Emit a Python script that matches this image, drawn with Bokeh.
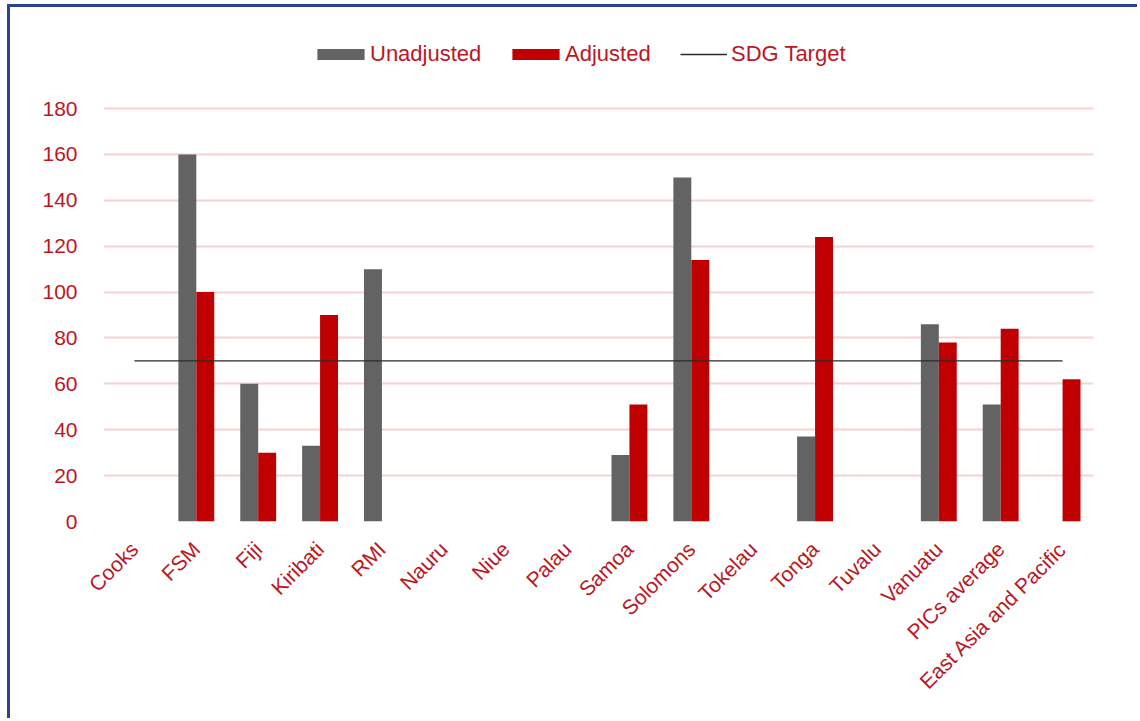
import math
from bokeh.plotting import figure
from bokeh.models import FactorRange, Range1d, FixedTicker, Legend, LegendItem, ColumnDataSource
from bokeh.transform import dodge
from bokeh.embed import file_html
from bokeh.resources import INLINE

categories = ["Cooks", "FSM", "Fiji", "Kiribati", "RMI", "Nauru", "Niue", "Palau", "Samoa",
              "Solomons", "Tokelau", "Tonga", "Tuvalu", "Vanuatu", "PICs average",
              "East Asia and Pacific"]
unadjusted = [0, 160, 60, 33, 110, 0, 0, 0, 29, 150, 0, 37, 0, 86, 51, 0]
adjusted = [0, 100, 30, 90, 0, 0, 0, 0, 51, 114, 0, 124, 0, 78, 84, 62]
sdg_target = 70
y_ticks = [0, 20, 40, 60, 80, 100, 120, 140, 160, 180]

RED_TXT = "#BD1622"
FONT = "Liberation Sans"

src = ColumnDataSource(dict(cat=categories, un=unadjusted, adj=adjusted))

p = figure(x_range=FactorRange(*categories, range_padding=0),
           y_range=Range1d(0, 214.9),
           width=1130, height=714, output_backend="svg", toolbar_location=None,
           min_border_left=93, min_border_right=47, min_border_top=21, min_border_bottom=200)
p.styles = {"border-top": "3px solid #2B4393", "border-left": "3px solid #2B4393",
            "margin-top": "4px", "margin-left": "7px"}
p.outline_line_color = None

r_un = p.vbar(x=dodge("cat", -0.145, range=p.x_range), top="un", width=0.29, source=src,
              fill_color="#636363", line_color=None)
r_adj = p.vbar(x=dodge("cat", 0.145, range=p.x_range), top="adj", width=0.29, source=src,
               fill_color="#C00000", line_color=None)
r_sdg = p.line(x=[categories[0], categories[-1]], y=[sdg_target, sdg_target],
               line_color="#2a2a2a", line_width=1.3)

# axes
p.xgrid.grid_line_color = None
p.ygrid.grid_line_color = "#F6D2D2"
p.ygrid.grid_line_width = 2
p.yaxis.ticker = FixedTicker(ticks=y_ticks)
for ax in (p.xaxis[0], p.yaxis[0]):
    ax.axis_line_color = None
    ax.major_tick_line_color = None
    ax.minor_tick_line_color = None
    ax.major_label_text_color = RED_TXT
    ax.major_label_text_font = FONT
    ax.major_label_text_font_size = "21px"
p.yaxis.major_label_standoff = 20
p.xaxis.major_label_orientation = math.pi / 4
p.xaxis.major_label_standoff = 18

LEG_Y = 454
def make_legend(label, rend, x, gw, gh, standoff):
    return Legend(items=[LegendItem(label=label, renderers=[rend])],
                  location=(x, LEG_Y), glyph_width=gw, glyph_height=gh, label_standoff=standoff,
                  label_text_font=FONT, label_text_font_size="22px", label_text_color=RED_TXT,
                  background_fill_alpha=0, border_line_alpha=0, padding=0, margin=0)

p.add_layout(make_legend("Unadjusted", r_un, 208, 59, 14, 0))
p.add_layout(make_legend("Adjusted", r_adj, 403, 59, 14, 0))
p.add_layout(make_legend("SDG Target", r_sdg, 577, 47, 14, 4))

open("out.html", "w").write(file_html(p, INLINE))
